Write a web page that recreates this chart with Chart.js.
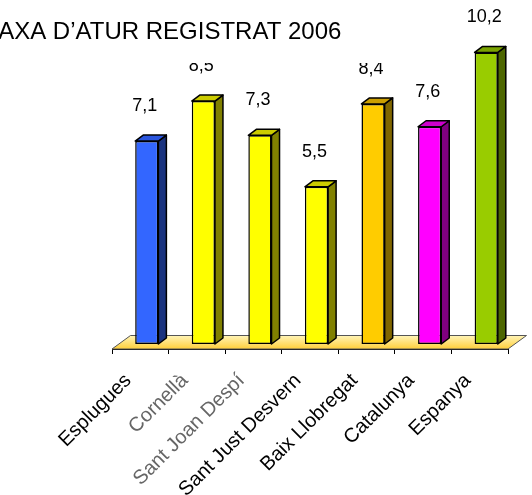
<!DOCTYPE html>
<html>
<head>
<meta charset="utf-8">
<script src="https://cdn.jsdelivr.net/npm/chart.js@4.4.0/dist/chart.umd.min.js"></script>
<style>
  html, body { margin: 0; padding: 0; background: #fff; }
  #wrap { width: 532px; height: 495px; }
</style>
</head>
<body>
<div id="wrap"><canvas id="chart"></canvas></div>
<script>
(function() {
  const TITLE = 'TAXA D’ATUR REGISTRAT 2006';
  const categories = ['Esplugues', 'Cornellà', 'Sant Joan Despí', 'Sant Just Desvern', 'Baix Llobregat', 'Catalunya', 'Espanya'];
  const values = [7.1, 8.5, 7.3, 5.5, 8.4, 7.6, 10.2];

  const frontColors = ['#3366ff', '#ffff00', '#ffff00', '#ffff00', '#ffcc00', '#ff00ff', '#99cc00'];
  const sideColors = ['#1a337f', '#808000', '#808000', '#808000', '#806600', '#800080', '#4d6600'];
  const topColors = ['#2a55dd', '#cccc00', '#cccc00', '#cccc00', '#cc9f00', '#cc00cc', '#7aa300'];
  const labelColors = ['#000', '#666', '#666', '#000', '#000', '#000', '#000'];

  const FONT = 'Arial, "Liberation Sans", sans-serif';

  // bars sit half way into the floor
  const SHIFT_X = 6.5, SHIFT_Y = -5;
  const DEPTH_X = 8, DEPTH_Y = 6;
  const FLOOR_X = 18.5, FLOOR_Y = 13.5;

  const fmt = (v) => v.toFixed(1).replace('.', ',');

  const floor3d = {
    id: 'floor3d',
    beforeDatasetsDraw(chart) {
      const { ctx, chartArea } = chart;
      const l = chartArea.left, r = chartArea.right, y = chartArea.bottom;
      const grad = ctx.createLinearGradient(0, y - FLOOR_Y, 0, y);
      grad.addColorStop(0, '#fff4b8');
      grad.addColorStop(1, '#ffcf3a');
      ctx.save();
      ctx.beginPath();
      ctx.moveTo(l, y);
      ctx.lineTo(r, y);
      ctx.lineTo(r + FLOOR_X, y - FLOOR_Y);
      ctx.lineTo(l + FLOOR_X, y - FLOOR_Y);
      ctx.closePath();
      ctx.fillStyle = grad;
      ctx.fill();
      ctx.strokeStyle = '#555';
      ctx.lineWidth = 1;
      ctx.stroke();
      ctx.restore();

      ctx.save();
      ctx.translate(SHIFT_X, SHIFT_Y);
    },
    afterDatasetsDraw(chart) {
      const { ctx } = chart;
      const meta = chart.getDatasetMeta(0);
      ctx.lineWidth = 1.5;
      ctx.lineJoin = 'round';
      ctx.strokeStyle = '#000';
      meta.data.forEach((el, i) => {
        const x0 = el.x - el.width / 2, x1 = el.x + el.width / 2;
        const yt = el.y, yb = el.base;
        // side
        ctx.beginPath();
        ctx.moveTo(x1, yt);
        ctx.lineTo(x1 + DEPTH_X, yt - DEPTH_Y);
        ctx.lineTo(x1 + DEPTH_X, yb - DEPTH_Y);
        ctx.lineTo(x1, yb);
        ctx.closePath();
        ctx.fillStyle = sideColors[i];
        ctx.fill();
        ctx.stroke();
        // top
        ctx.beginPath();
        ctx.moveTo(x0, yt);
        ctx.lineTo(x0 + DEPTH_X, yt - DEPTH_Y);
        ctx.lineTo(x1 + DEPTH_X, yt - DEPTH_Y);
        ctx.lineTo(x1, yt);
        ctx.closePath();
        ctx.fillStyle = topColors[i];
        ctx.fill();
        ctx.stroke();
      });
      ctx.restore();

      // value labels, the title box hides the upper part of some
      ctx.save();
      ctx.beginPath();
      ctx.rect(0, 0, chart.width, chart.height);
      ctx.rect(0, 0, 455, 63);
      ctx.clip('evenodd');
      ctx.fillStyle = '#000';
      ctx.font = '18px ' + FONT;
      ctx.textAlign = 'center';
      ctx.textBaseline = 'middle';
      meta.data.forEach((el, i) => {
        ctx.fillText(fmt(values[i]), el.x + SHIFT_X - 2, el.y + SHIFT_Y - 35);
      });
      ctx.restore();
    },
    afterDraw(chart) {
      const { ctx } = chart;
      ctx.save();
      ctx.fillStyle = '#000';
      ctx.font = '24px ' + FONT;
      ctx.textAlign = 'left';
      ctx.textBaseline = 'alphabetic';
      ctx.fillText(TITLE, -14.7, 39);
      ctx.restore();
    }
  };

  new Chart(document.getElementById('chart'), {
    type: 'bar',
    data: {
      labels: categories,
      datasets: [{
        data: values,
        backgroundColor: frontColors,
        borderColor: '#000',
        borderWidth: 1.5,
        borderSkipped: false,
        barPercentage: 0.41,
        categoryPercentage: 1,
        clip: false
      }]
    },
    options: {
      responsive: true,
      maintainAspectRatio: false,
      animation: false,
      layout: { padding: { top: 6, left: 112, right: 24, bottom: 0 } },
      plugins: {
        legend: { display: false },
        title: { display: false },
        tooltip: { enabled: false }
      },
      scales: {
        x: {
          grid: {
            offset: true,
            drawOnChartArea: false,
            drawTicks: true,
            tickLength: 5,
            color: '#000'
          },
          border: { color: '#000', width: 1 },
          ticks: {
            autoSkip: false,
            maxRotation: 45,
            minRotation: 45,
            padding: 15,
            labelOffset: -12,
            color: (c) => labelColors[c.index] || '#000',
            font: { family: FONT, size: 20 }
          },
          afterFit(scale) {
            scale.height = 146;
            scale.paddingLeft = 0;
            scale.paddingRight = 0;
          }
        },
        y: {
          display: false,
          min: 0,
          max: 12
        }
      }
    },
    plugins: [floor3d]
  });
})();
</script>
</body>
</html>
